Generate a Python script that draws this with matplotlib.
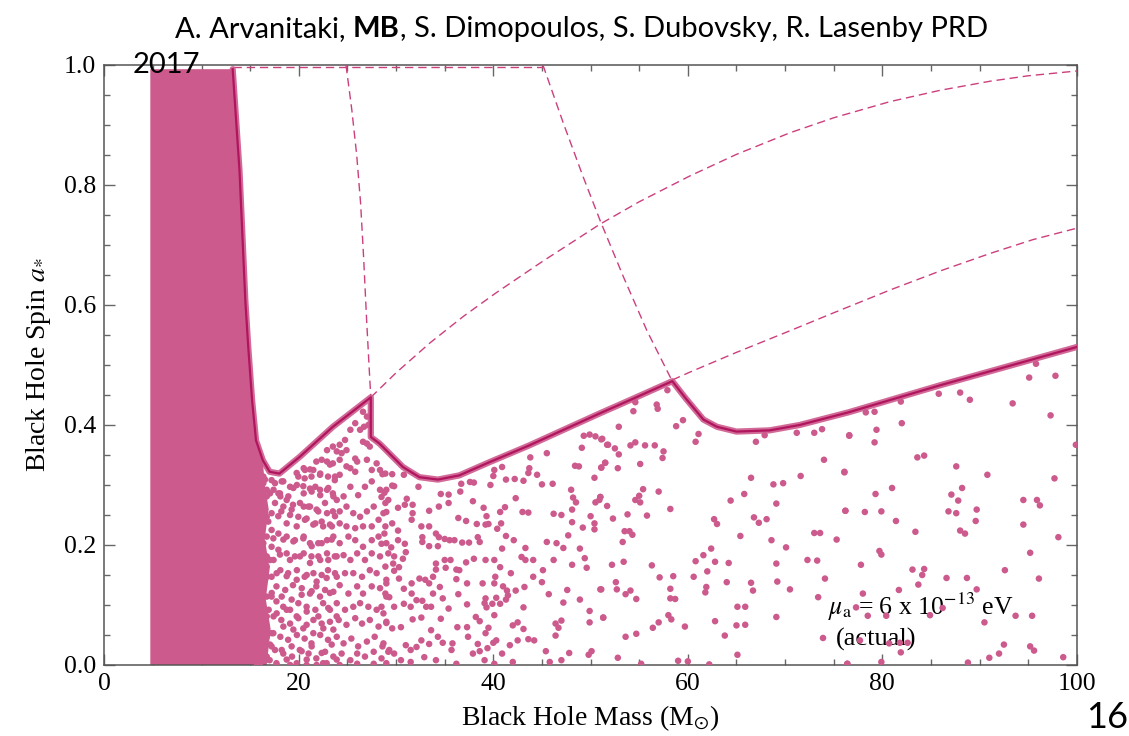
import matplotlib
matplotlib.use("Agg")
import matplotlib.pyplot as plt
import numpy as np

# ---------------- data ----------------
# saturated (solid) region of points
fill_mass = [4.73, 4.73, 13.2, 13.9, 14.5, 14.8, 15.2, 15.6, 16.3, 16.5, 16.9, 16.5, 17.0,
             16.6, 17.1, 16.7]
fill_spin = [0.0, 0.993, 0.993, 0.824, 0.607, 0.530, 0.440, 0.374, 0.341, 0.30, 0.26, 0.21,
             0.16, 0.11, 0.06, 0.0]

# solid boundary curve
bound_mass = [13.2, 13.9, 14.5, 14.8, 15.2, 15.6, 16.3, 17.0, 18.0, 20.1, 23.5, 27.4, 27.4,
              28.3, 30.7, 32.4, 34.3, 36.5, 39.6, 43.7, 47.5, 50.9, 54.4, 58.4, 59.8, 61.6,
              63.0, 65.0, 68.4, 71.5, 76.5, 85.9, 100.0]
bound_spin = [0.993, 0.824, 0.607, 0.530, 0.440, 0.374, 0.341, 0.322, 0.319, 0.347, 0.397, 0.446, 0.380,
              0.369, 0.330, 0.313, 0.309, 0.316, 0.338, 0.366, 0.394, 0.419, 0.444, 0.473, 0.444, 0.409,
              0.397, 0.389, 0.391, 0.400, 0.421, 0.466, 0.530]

# dashed curves
d1_mass = [13.2, 45.1]
d1_spin = [0.997, 0.997]
d2_mass = [24.85, 25.45, 25.95, 26.35, 26.65, 26.98, 27.2, 27.4]
d2_spin = [1.0, 0.925, 0.85, 0.77, 0.683, 0.572, 0.505, 0.446]
d3_mass = [45.1, 47.2, 49.25, 51.0, 53.4, 55.8, 58.4]
d3_spin = [1.0, 0.903, 0.813, 0.740, 0.646, 0.557, 0.473]
d4_mass = [27.4, 30.0, 33.5, 37.0, 40.35, 45.0, 51.0, 55.0, 60.2, 65.0, 70.5, 75.0, 80.8, 86.0,
           91.1, 95.0, 100.0]
d4_spin = [0.446, 0.487, 0.537, 0.582, 0.621, 0.672, 0.735, 0.772, 0.815, 0.851, 0.887, 0.912,
           0.939, 0.958, 0.973, 0.982, 0.990]
d5_mass = [58.4, 60.2, 65.0, 70.5, 75.0, 80.8, 86.0, 91.1, 95.5, 100.0]
d5_spin = [0.475, 0.488, 0.521, 0.557, 0.587, 0.625, 0.657, 0.686, 0.709, 0.728]

# scattered black holes (mass, spin)
dots_dense = [
    (15.32, .311), (15.67, .300), (16.52, .309), (17.55, .303), (18.24, .306), (19.78, .320),
    (20.63, .325), (21.49, .325), (22.18, .317), (23.2, .334), (23.72, .314), (19.44, .295),
    (20.46, .298), (21.32, .289), (22.18, .292), (23.03, .295), (23.55, .281), (18.92, .281),
    (18.06, .286), (17.04, .286), (16.01, .275), (15.32, .264), (16.52, .259), (17.55, .270),
    (18.41, .264), (19.26, .259), (20.12, .270), (20.98, .264), (21.83, .259), (22.69, .270),
    (23.72, .248), (23.2, .234), (22.35, .239), (21.49, .234), (20.63, .242), (19.78, .231),
    (18.75, .236), (17.89, .248), (16.86, .239), (15.84, .231), (15.32, .214), (16.35, .203),
    (17.38, .211), (18.41, .209), (19.44, .206), (20.46, .211), (21.32, .198), (22.35, .203),
    (23.38, .209), (23.89, .181), (23.03, .175), (22.01, .181), (21.15, .170), (20.12, .181),
    (19.09, .175), (18.06, .184), (17.04, .175), (16.01, .170), (15.49, .150), (16.52, .142),
    (17.72, .153), (18.75, .148), (19.78, .142), (20.81, .150), (21.83, .139), (22.86, .145),
    (23.72, .153), (23.2, .120), (22.18, .114), (21.32, .123), (20.29, .117), (19.26, .109),
    (18.24, .114), (17.21, .120), (16.18, .109), (15.32, .098), (16.52, .089), (17.72, .086),
    (18.75, .092), (19.78, .081), (20.81, .089), (22.01, .081), (23.03, .095), (23.89, .081),
    (23.55, .059), (22.52, .061), (21.49, .053), (20.46, .061), (19.44, .059), (18.41, .064),
    (17.38, .053), (16.35, .064), (15.49, .048), (16.01, .031), (17.04, .034), (18.24, .025),
    (19.26, .031), (20.29, .023), (21.32, .031), (22.35, .020), (23.38, .034), (23.89, .009),
    (22.86, .003), (21.83, .0), (20.81, .009), (19.78, .003), (18.75, .009), (17.72, .0),
    (16.69, .009), (15.67, .003),
]

dots_near = [
    (24.2, .367), (24.75, .375), (25.3, .392), (25.8, .403), (26.3, .392), (26.7, .397), (27.15, .400),
    (27.0, .414), (26.6, .422), (22.9, .358), (23.5, .364), (23.9, .356), (24.4, .353), (24.9, .358),
    (21.8, .339), (22.35, .342), (22.9, .339), (23.5, .336), (24.2, .342), (24.9, .331), (25.8, .344),
    (26.0, .339), (27.0, .342), (27.5, .325), (28.0, .336), (28.35, .325), (28.9, .319), (25.8, .322),
    (25.3, .328), (21.15, .326), (20.5, .328), (19.95, .314), (20.6, .311), (21.3, .314), (22.2, .319),
    (23.0, .314), (23.7, .308), (24.2, .317), (27.0, .369), (27.3, .364), (26.6, .372),
    (18.4, .306), (19.1, .297), (19.8, .300), (20.5, .286), (21.15, .294), (21.7, .297), (22.2, .283),
    (22.9, .292), (23.5, .286), (23.9, .275), (24.6, .281), (25.3, .297), (26.1, .283), (26.8, .297),
    (27.5, .306), (28.35, .292), (29.0, .292), (29.2, .275), (27.7, .264), (27.0, .256), (26.3, .247),
    (25.6, .253), (24.9, .264), (24.2, .256), (23.5, .256), (22.9, .253), (22.0, .256), (21.15, .264),
    (20.5, .264), (19.4, .267), (18.75, .275), (18.1, .281), (17.4, .292), (16.7, .292), (16.35, .303),
    (17.2, .308), (17.9, .286), (18.2, .256), (19.1, .250), (19.95, .247), (20.8, .244), (21.7, .236),
    (22.5, .231), (23.4, .231), (24.2, .236), (24.9, .231), (25.8, .228), (26.6, .231), (27.5, .231),
    (28.2, .242), (28.9, .231), (28.7, .253),
    (17.9, .219), (18.75, .214), (19.6, .208), (20.5, .214), (21.15, .203), (22.0, .203), (22.9, .208),
    (23.55, .214), (24.2, .203), (25.1, .214), (25.8, .208), (26.6, .197), (27.5, .208), (28.2, .214),
    (29.0, .203), (29.2, .186), (28.35, .181), (27.5, .186), (26.8, .175), (26.0, .186), (25.3, .175),
    (24.6, .183), (23.7, .181), (22.9, .186), (22.2, .175), (21.3, .181), (20.5, .186), (19.6, .181),
    (18.75, .186), (17.9, .192), (17.4, .175), (18.1, .158), (18.9, .153), (19.8, .158), (20.6, .147),
    (21.5, .153), (22.35, .150), (23.0, .158), (23.9, .147), (24.75, .153), (25.6, .153), (26.5, .147),
    (27.3, .158), (28.0, .153), (28.9, .164), (29.0, .142), (17.2, .147), (16.7, .164),
    (17.7, .131), (18.6, .125), (19.4, .133), (20.3, .128), (21.15, .119), (21.8, .131), (22.7, .125),
    (23.55, .122), (24.2, .133), (25.1, .119), (26.0, .131), (26.6, .119), (27.5, .131), (28.35, .128),
    (29.0, .114), (17.7, .106), (18.4, .097), (19.1, .092), (19.95, .103), (20.8, .097), (21.7, .092),
    (22.5, .103), (23.2, .092), (23.9, .103), (24.75, .092), (25.6, .097), (26.3, .103), (27.15, .097),
    (28.0, .092), (28.7, .086), (17.4, .081), (18.2, .075), (19.1, .069), (19.95, .078), (20.8, .067),
    (21.5, .075), (22.35, .069), (23.2, .072), (24.1, .075), (24.9, .067), (25.8, .078), (26.5, .069),
    (27.3, .075), (28.2, .064), (29.0, .072),
    (17.2, .053), (18.1, .047), (18.9, .042), (19.8, .050), (20.6, .044), (21.3, .036), (22.2, .050),
    (23.0, .042), (23.9, .047), (24.6, .036), (25.4, .044), (26.1, .031), (27.0, .039), (27.8, .047),
    (28.7, .036), (17.55, .025), (18.4, .019), (19.3, .014), (20.1, .025), (21.0, .019), (21.8, .011),
    (22.7, .022), (23.55, .014), (24.4, .019), (25.3, .008), (26.0, .019), (26.8, .014), (27.7, .022),
    (28.5, .011), (29.2, .022), (17.7, .003), (19.1, .0), (20.8, .0), (22.5, .003), (24.2, .0),
    (26.0, .002), (27.7, .002), (29.0, .003),
    (16.0, .297), (16.7, .281), (16.0, .264), (16.7, .247), (16.0, .231), (16.7, .214), (16.0, .197),
    (16.7, .181), (16.0, .164), (16.7, .147), (16.0, .131), (16.7, .114), (16.0, .097), (16.7, .081),
    (16.0, .064), (16.7, .047), (16.0, .031), (16.7, .014), (16.0, .0), (16.35, .314), (17.2, .253),
    (17.2, .225), (17.2, .197), (17.2, .114), (16.9, .092), (17.2, .031), (17.0, .008),
]

dots_mid = [
    (49.3, .382), (49.9, .384), (50.5, .381), (51.1, .376), (51.7, .367), (49.1, .362), (48.4, .332),
    (48.8, .331), (51.1, .329), (51.5, .337), (50.4, .312), (45.5, .353), (43.8, .346), (43.7, .328),
    (43.6, .320), (44.5, .317), (43.1, .307), (42.2, .310), (41.3, .309), (45.0, .301), (46.1, .302),
    (48.0, .292), (48.2, .279), (48.5, .271), (50.5, .271), (50.9, .275), (51.0, .280), (50.0, .248),
    (50.4, .236), (50.4, .226), (49.2, .229), (48.1, .238), (48.1, .259), (47.0, .250), (46.2, .252),
    (47.7, .216), (45.5, .205), (46.5, .203), (47.2, .195), (48.9, .194), (49.4, .178), (49.6, .162),
    (48.1, .167), (46.2, .175), (45.1, .158), (44.1, .147), (45.0, .138), (45.7, .118), (48.9, .109),
    (51.0, .126), (49.9, .090), (49.9, .071), (51.3, .079), (47.2, .104), (47.6, .125), (43.1, .096),
    (42.5, .071), (42.0, .066), (43.1, .060), (44.2, .041), (43.6, .043), (42.5, .041), (41.7, .033),
    (40.3, .041), (40.0, .037), (45.4, .023), (46.4, .049), (46.7, .062), (47.0, .074), (46.4, .069),
    (47.8, .020), (49.8, .017), (50.1, .023), (47.0, .008), (45.8, .005), (42.0, .005), (40.9, .019),
    (39.1, .008), (40.1, .002), (38.6, .023), (39.4, .028), (37.9, .019), (38.4, .035), (39.2, .053),
    (39.5, .062), (40.1, .083), (38.6, .073), (39.3, .096), (39.1, .103), (39.9, .102), (40.3, .112),
    (40.7, .102), (41.3, .109), (41.5, .116), (41.4, .124), (42.3, .124), (43.2, .130), (41.0, .131),
    (40.1, .136), (40.2, .147), (40.7, .163), (41.8, .153), (40.1, .175), (39.2, .175), (38.0, .177),
    (37.2, .171), (36.5, .158), (36.2, .143), (36.4, .118), (37.3, .101), (37.3, .136), (38.9, .136),
    (39.2, .111), (38.6, .205), (38.4, .213), (38.3, .235), (39.2, .234), (39.5, .235), (40.4, .227),
    (40.8, .236), (41.3, .215), (42.1, .208), (43.3, .195), (42.9, .180), (43.3, .175), (44.1, .175),
    (40.9, .194), (42.3, .278), (43.0, .255), (43.6, .254), (40.7, .255), (41.2, .263), (39.0, .262),
    (39.3, .248), (37.9, .273), (37.2, .240), (36.4, .245), (37.5, .204), (36.8, .204), (36.0, .208),
    (38.0, .304), (37.6, .305), (36.7, .302), (36.6, .289), (39.7, .300), (40.1, .325), (40.9, .330),
    (40.0, .315), (35.4, .284), (35.4, .270), (34.6, .285), (34.4, .264), (33.4, .257),
    (28.6, .318), (29.6, .318), (29.6, .299), (29.8, .298), (28.8, .287), (28.5, .280), (28.9, .270),
    (29.0, .255), (30.2, .262), (30.9, .267), (31.1, .277), (31.7, .267), (31.7, .253), (32.3, .297),
    (30.8, .317), (31.6, .242), (32.6, .231), (33.4, .231), (32.7, .213), (32.7, .205), (33.4, .198),
    (34.1, .219), (34.4, .213), (34.3, .198), (35.0, .210), (35.5, .208), (35.0, .175), (35.6, .175),
    (35.1, .162), (36.2, .159), (34.1, .169), (34.1, .159), (33.8, .147), (33.4, .136), (33.0, .142),
    (32.4, .144), (31.6, .136), (31.6, .119), (30.8, .127), (30.3, .144), (29.8, .157), (29.7, .169),
    (30.3, .163), (29.8, .181), (30.7, .177), (31.0, .188), (30.2, .208), (29.5, .196), (28.5, .202),
    (28.8, .219), (29.6, .236), (30.2, .224), (30.9, .202), (29.0, .136), (28.9, .119), (29.3, .113),
    (28.5, .097), (29.8, .097), (30.8, .102), (31.5, .097), (32.1, .108), (32.7, .107), (33.1, .097),
    (33.6, .097), (33.8, .119), (34.5, .130), (34.8, .111), (35.4, .094), (34.6, .077), (33.6, .058),
    (34.3, .047), (34.8, .037), (33.4, .035), (32.6, .041), (32.1, .030), (31.5, .025), (31.0, .033),
    (30.5, .008), (29.8, .019), (29.3, .025), (28.6, .031), (29.6, .061), (30.5, .063), (31.7, .076),
    (32.6, .079), (29.0, .070), (35.8, .036), (36.3, .063), (35.7, .025), (36.2, .002), (34.1, .008),
    (32.9, .013), (31.5, .005), (37.3, .063), (38.2, .080), (37.4, .047),
]

dots_far = [
    (57.9, .458), (56.9, .427), (56.8, .434), (54.4, .423), (54.6, .438), (52.9, .397), (59.5, .408),
    (58.8, .398), (61.1, .385), (60.8, .372), (67.0, .372), (67.9, .383), (71.2, .387), (73.0, .387),
    (73.8, .393), (76.6, .382), (51.2, .377), (51.8, .367), (52.5, .361), (52.9, .351), (54.1, .366),
    (54.6, .371), (55.6, .366), (56.6, .366), (57.5, .356), (57.4, .345), (55.1, .335), (51.5, .337),
    (51.1, .329), (52.8, .328), (74.0, .342), (76.1, .322), (66.5, .312), (71.6, .315), (68.8, .301),
    (69.8, .303), (65.8, .285), (64.4, .274), (69.1, .269), (57.0, .289), (55.4, .293), (55.0, .282),
    (54.6, .275), (55.1, .271), (58.2, .260), (55.8, .249), (53.8, .251), (52.3, .244), (51.0, .280),
    (51.7, .265), (53.5, .223), (54.0, .223), (54.3, .217), (53.3, .205), (66.8, .246), (67.3, .237),
    (68.1, .243), (62.7, .243), (63.0, .235), (65.4, .215), (68.6, .208), (70.1, .196), (73.0, .220),
    (73.6, .220), (75.3, .209), (76.2, .257), (62.4, .194), (61.6, .183), (60.8, .173), (62.8, .172),
    (62.0, .156), (64.2, .170), (69.1, .169), (72.3, .175), (73.3, .174), (74.1, .144), (69.2, .139),
    (70.5, .126), (66.5, .137), (66.7, .124), (64.0, .138), (61.9, .130), (61.8, .121), (60.6, .147),
    (58.5, .148), (57.1, .146), (56.3, .166), (53.4, .172), (52.2, .167), (52.6, .138), (52.7, .126),
    (53.6, .118), (54.1, .124), (54.7, .110), (58.2, .127), (58.2, .111), (58.7, .110), (51.1, .126),
    (51.3, .079), (56.4, .062), (57.0, .071), (58.0, .083), (58.3, .076), (59.7, .064), (62.8, .073),
    (63.8, .049), (65.1, .097), (65.9, .097), (65.0, .066), (65.9, .067), (69.1, .080), (73.4, .113),
    (73.9, .045), (53.6, .047), (54.7, .052), (52.8, .012), (55.2, .002), (59.0, .007), (60.0, .006),
    (62.2, .001), (65.1, .017), (76.4, .002),
    (78.3, .421), (79.2, .422), (81.9, .439), (85.8, .452), (88.0, .454), (89.0, .442), (93.4, .436),
    (95.1, .479), (95.8, .502), (97.8, .482), (97.3, .416), (99.9, .367), (76.6, .383), (79.4, .392),
    (79.2, .371), (82.0, .403), (83.6, .346), (84.3, .349), (76.1, .321), (87.6, .331), (90.8, .317),
    (97.7, .311), (79.3, .285), (81.0, .295), (87.1, .284), (87.8, .274), (88.2, .295), (94.5, .275),
    (95.9, .275), (96.2, .266), (76.2, .257), (78.2, .255), (79.9, .256), (86.8, .256), (87.6, .253),
    (89.7, .259), (81.4, .240), (89.6, .240), (94.5, .234), (83.4, .222), (88.0, .224), (88.5, .219),
    (98.1, .213), (79.7, .190), (79.9, .184), (95.2, .187), (77.8, .167), (83.1, .159), (84.3, .160),
    (84.1, .150), (83.7, .134), (86.6, .145), (88.7, .145), (92.6, .158), (96.1, .144), (81.7, .125),
    (78.0, .119), (89.7, .126), (78.5, .082), (80.4, .082), (84.9, .083), (86.2, .095), (93.7, .082),
    (95.4, .082), (77.3, .096), (90.5, .071), (81.8, .037), (82.6, .037), (80.7, .036), (77.7, .041),
    (92.5, .034), (95.2, .031), (95.6, .024), (81.9, .021), (76.4, .002), (79.9, .005), (88.8, .004),
    (91.0, .012), (92.0, .019), (98.6, .013),
]

x_ticks = [0, 20, 40, 60, 80, 100]
y_ticks = [0.0, 0.2, 0.4, 0.6, 0.8, 1.0]

# ---------------- style ----------------
DOT = '#CC5A8C'
LINE = '#B0155E'
DASH = '#CC3F7D'
SERIF = ['Liberation Serif', 'DejaVu Serif']
SANS = ['Lato', 'DejaVu Sans']
plt.rcParams['mathtext.fontset'] = 'stix'

fig = plt.figure(figsize=(11.29, 7.36), dpi=100)
ax = fig.add_axes([0.0924, 0.0965, 0.8614, 0.8152])

ax.fill(fill_mass, fill_spin, color=DOT, lw=0, zorder=2)
for pts in (dots_dense, dots_near, dots_mid, dots_far):
    m = [p[0] for p in pts]
    s = [p[1] for p in pts]
    ax.scatter(m, s, s=22, color=DOT, edgecolors='none', zorder=3)

dash_kw = dict(color=DASH, lw=1.0, dashes=(6, 3.5), zorder=4)
for xm, ys in ((d1_mass, d1_spin), (d2_mass, d2_spin), (d3_mass, d3_spin),
               (d4_mass, d4_spin), (d5_mass, d5_spin)):
    ax.plot(xm, ys, **dash_kw)

ax.plot(bound_mass, bound_spin, color=DOT, lw=4.5, alpha=0.9, solid_joinstyle='round',
        solid_capstyle='round', zorder=5)
ax.plot(bound_mass, bound_spin, color=LINE, lw=1.6, solid_joinstyle='round', zorder=6)

ax.set_xlim(0, 100)
ax.set_ylim(0, 1.0)
ax.set_xticks(x_ticks)
ax.set_xticklabels([str(t) for t in x_ticks])
ax.set_yticks(y_ticks)
ax.set_yticklabels(['%.1f' % t for t in y_ticks])
ax.set_xticks(np.arange(0, 101, 5), minor=True)
ax.set_yticks(np.arange(0, 1.001, 0.05), minor=True)
ax.tick_params(which='both', direction='in', top=True, right=True, color='#666666', width=1)
ax.tick_params(which='major', length=8, labelsize=18.5, pad=6)
ax.tick_params(which='minor', length=4)
for lab in ax.get_xticklabels() + ax.get_yticklabels():
    lab.set_family(SERIF)
for sp in ax.spines.values():
    sp.set_color('#555555')
    sp.set_linewidth(1.1)

ax.set_xlabel(r'Black Hole Mass (M$_{\odot}$)', family=SERIF, fontsize=20, labelpad=6)
ax.set_ylabel(r'Black Hole Spin $a_{*}$', family=SERIF, fontsize=20, labelpad=8)

ax.text(74.4, 0.097, r'$\mu_{\rm a}$ = 6 x 10$^{-13}$ eV', family=SERIF, fontsize=18.5,
        va='center', ha='left', zorder=2)
ax.text(75.2, 0.042, '(actual)', family=SERIF, fontsize=19, va='center', ha='left', zorder=2)

# slide header (title with bold initials), chained pieces
TS = 21
t1 = fig.text(175 / 1129, 1 - 37 / 736, 'A. Arvanitaki, ', family=SANS, weight='normal',
              fontsize=TS, ha='left', va='baseline')
t2 = ax.annotate('MB', xy=(1, 0), xycoords=t1, family=SANS, weight='bold', fontsize=TS,
                 ha='left', va='bottom', annotation_clip=False)
t3 = ax.annotate(', S. Dimopoulos, S. Dubovsky, R. Lasenby PRD', xy=(1, 0), xycoords=t2,
                 family=SANS, weight='normal', fontsize=TS, ha='left', va='bottom',
                 annotation_clip=False)
fig.text(133 / 1129, 1 - 73 / 736, '2017', family=SANS, weight='normal',
         fontsize=TS, ha='left', va='baseline')
fig.text(0.9995, 1 - 728 / 736, '16', family=SANS, weight='normal',
         fontsize=26, ha='right', va='baseline')

fig.savefig('out.png', dpi=100)
